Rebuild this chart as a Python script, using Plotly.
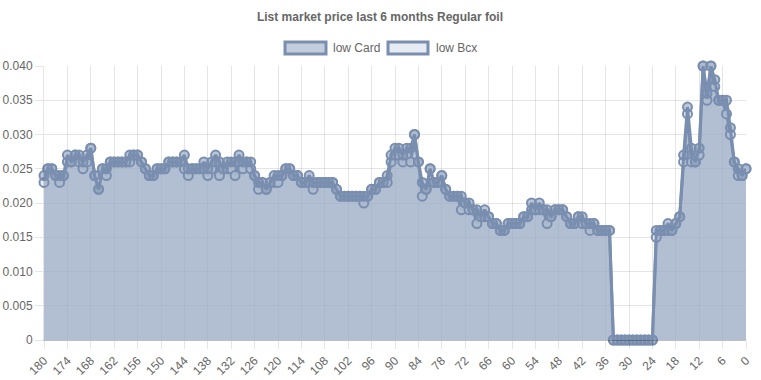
import plotly.graph_objects as go

# days before today (category axis, 180 -> 0)
days = list(range(180, -1, -1))

# low Card values, day 180 ... day 0
low_card = [
    0.024, 0.025, 0.025, 0.024, 0.024, 0.024, 0.027, 0.026, 0.027, 0.027,   # 180-171
    0.026, 0.027, 0.028, 0.024, 0.022, 0.025, 0.025, 0.026, 0.026, 0.026,   # 170-161
    0.026, 0.026, 0.027, 0.027, 0.027, 0.026, 0.025, 0.024, 0.024, 0.025,   # 160-151
    0.025, 0.025, 0.026, 0.026, 0.026, 0.026, 0.027, 0.025, 0.025, 0.025,   # 150-141
    0.025, 0.026, 0.025, 0.026, 0.027, 0.026, 0.025, 0.026, 0.026, 0.026,   # 140-131
    0.027, 0.026, 0.026, 0.026, 0.024, 0.023, 0.023, 0.022, 0.023, 0.024,   # 130-121
    0.024, 0.024, 0.025, 0.025, 0.024, 0.024, 0.023, 0.023, 0.024, 0.023,   # 120-111
    0.023, 0.023, 0.023, 0.023, 0.023, 0.022, 0.021, 0.021, 0.021, 0.021,   # 110-101
    0.021, 0.021, 0.021, 0.021, 0.022, 0.022, 0.023, 0.023, 0.024, 0.027,   # 100-91
    0.028, 0.028, 0.027, 0.028, 0.028, 0.030, 0.026, 0.023, 0.022, 0.025,   # 90-81
    0.023, 0.023, 0.024, 0.022, 0.021, 0.021, 0.021, 0.021, 0.020, 0.020,   # 80-71
    0.019, 0.019, 0.018, 0.019, 0.018, 0.017, 0.017, 0.016, 0.016, 0.017,   # 70-61
    0.017, 0.017, 0.017, 0.018, 0.018, 0.020, 0.019, 0.020, 0.019, 0.019,   # 60-51
    0.018, 0.019, 0.019, 0.019, 0.018, 0.017, 0.017, 0.018, 0.018, 0.017,   # 50-41
    0.017, 0.017, 0.016, 0.016, 0.016, 0.016, 0.0, 0.0, 0.0, 0.0,          # 40-31
    0.0, 0.0, 0.0, 0.0, 0.0, 0.0, 0.0, 0.016, 0.016, 0.016,                 # 30-21
    0.017, 0.016, 0.017, 0.018, 0.027, 0.034, 0.028, 0.026, 0.028, 0.040,   # 20-11
    0.036, 0.040, 0.038, 0.035, 0.035, 0.035, 0.031, 0.026, 0.025, 0.024,   # 10-1
    0.025,                                                                  # 0
]

# low Bcx values, day 180 ... day 0
low_bcx = [
    0.023, 0.025, 0.025, 0.024, 0.023, 0.024, 0.026, 0.026, 0.027, 0.026,   # 180-171
    0.025, 0.026, 0.028, 0.024, 0.022, 0.025, 0.024, 0.026, 0.026, 0.026,   # 170-161
    0.026, 0.026, 0.026, 0.027, 0.027, 0.026, 0.025, 0.024, 0.024, 0.025,   # 160-151
    0.025, 0.025, 0.026, 0.026, 0.026, 0.026, 0.025, 0.024, 0.025, 0.025,   # 150-141
    0.025, 0.025, 0.024, 0.025, 0.026, 0.024, 0.025, 0.025, 0.025, 0.024,   # 140-131
    0.026, 0.025, 0.026, 0.025, 0.024, 0.022, 0.023, 0.022, 0.023, 0.023,   # 130-121
    0.023, 0.024, 0.025, 0.025, 0.024, 0.024, 0.023, 0.023, 0.023, 0.022,   # 120-111
    0.023, 0.023, 0.023, 0.023, 0.023, 0.022, 0.021, 0.021, 0.021, 0.021,   # 110-101
    0.021, 0.021, 0.020, 0.021, 0.022, 0.022, 0.023, 0.023, 0.023, 0.026,   # 100-91
    0.027, 0.027, 0.026, 0.027, 0.026, 0.030, 0.026, 0.021, 0.022, 0.025,   # 90-81
    0.023, 0.023, 0.024, 0.022, 0.021, 0.021, 0.021, 0.019, 0.020, 0.019,   # 80-71
    0.019, 0.017, 0.018, 0.018, 0.018, 0.017, 0.017, 0.016, 0.016, 0.017,   # 70-61
    0.017, 0.017, 0.017, 0.018, 0.018, 0.019, 0.019, 0.019, 0.019, 0.017,   # 60-51
    0.018, 0.019, 0.019, 0.019, 0.018, 0.017, 0.017, 0.018, 0.017, 0.017,   # 50-41
    0.016, 0.017, 0.016, 0.016, 0.016, 0.016, 0.0, 0.0, 0.0, 0.0,          # 40-31
    0.0, 0.0, 0.0, 0.0, 0.0, 0.0, 0.0, 0.015, 0.016, 0.016,                 # 30-21
    0.016, 0.016, 0.017, 0.018, 0.026, 0.033, 0.026, 0.026, 0.027, 0.040,   # 20-11
    0.035, 0.040, 0.037, 0.035, 0.035, 0.033, 0.030, 0.026, 0.024, 0.024,   # 10-1
    0.025,                                                                  # 0
]

x_tick_vals = [180, 174, 168, 162, 156, 150, 144, 138, 132, 126, 120, 114, 108,
               102, 96, 90, 84, 78, 72, 66, 60, 54, 48, 42, 36, 30, 24, 18, 12, 6, 0]
y_tick_vals = [0, 0.005, 0.010, 0.015, 0.020, 0.025, 0.030, 0.035, 0.040]
y_tick_text = ["0", "0.005", "0.010", "0.015", "0.020", "0.025", "0.030", "0.035", "0.040"]
series_names = ["low Card", "low Bcx"]
title_text = "List market price last 6 months Regular foil"

LINE = "rgb(122,143,176)"
CARD_FILL = "rgba(120,141,174,0.5)"
BCX_FILL = "rgba(222,228,240,0.55)"
FONT = "Liberation Sans, Arial, Helvetica, sans-serif"
GRID = "rgba(0,0,0,0.1)"

W, H = 761, 380
L, R, T, B = 44, 15, 66, 40
PW, PH = W - L - R, H - T - B


def px_x(p):  # screen pixel -> paper
    return (p - L) / PW


def px_y(p):
    return (H - B - p) / PH


fig = go.Figure()
fig.add_trace(go.Scatter(
    x=days, y=low_bcx, name=series_names[1], mode="lines+markers",
    fill="tozeroy", fillcolor=BCX_FILL,
    line=dict(color=LINE, width=3),
    marker=dict(size=9, color="rgba(228,233,242,0.9)", line=dict(color=LINE, width=2)),
    cliponaxis=False, showlegend=False,
))
fig.add_trace(go.Scatter(
    x=days, y=low_card, name=series_names[0], mode="lines+markers",
    fill="tozeroy", fillcolor=CARD_FILL,
    line=dict(color=LINE, width=3),
    marker=dict(size=9, color=CARD_FILL, line=dict(color=LINE, width=2)),
    cliponaxis=False, showlegend=False,
))

# Chart.js-style legend boxes
shapes = []
annotations = []
legend_items = [
    (285, 326, "rgba(120,141,174,0.45)", 331, series_names[0]),
    (388, 428, "rgba(222,228,240,0.75)", 434, series_names[1]),
]
for x0, x1, fillc, tx, label in legend_items:
    shapes.append(dict(type="rect", xref="paper", yref="paper",
                       x0=px_x(x0), x1=px_x(x1), y0=px_y(54), y1=px_y(42),
                       fillcolor=fillc, line=dict(color=LINE, width=3), layer="above"))
    annotations.append(dict(xref="paper", yref="paper", x=px_x(tx), y=px_y(48),
                            xanchor="left", yanchor="middle", showarrow=False,
                            text=label, font=dict(family=FONT, size=12, color="#666")))

fig.update_layout(
    width=W, height=H,
    margin=dict(l=L, r=R, t=T, b=B, autoexpand=False),
    paper_bgcolor="white", plot_bgcolor="white",
    title=dict(text="<b>" + title_text + "</b>", x=380 / W, xanchor="center",
               xref="container", y=1 - 17 / H, yref="container", yanchor="middle",
               font=dict(family=FONT, size=12, color="#666")),
    font=dict(family=FONT, size=12, color="#666"),
    showlegend=False,
    shapes=shapes,
    annotations=annotations,
    xaxis=dict(range=[180, 0], autorange=False, tickmode="array", tickvals=x_tick_vals,
               ticktext=[str(v) for v in x_tick_vals], tickangle=-45, automargin=False,
               showgrid=True, gridcolor=GRID, gridwidth=1,
               ticks="outside", ticklen=8, tickcolor=GRID,
               showline=True, linecolor="rgba(0,0,0,0.25)", zeroline=False,
               tickfont=dict(family=FONT, size=12, color="#666")),
    yaxis=dict(range=[0, 0.040], autorange=False, tickmode="array", tickvals=y_tick_vals,
               ticktext=y_tick_text, automargin=False, showgrid=True, gridcolor=GRID, gridwidth=1,
               ticks="outside", ticklen=8, tickcolor=GRID,
               showline=True, linecolor=GRID, zeroline=False,
               tickfont=dict(family=FONT, size=12, color="#666")),
)

# remove the browser's default 8px body margin so the figure sits at the page origin
fig.write_html("out.html",
               config={"displayModeBar": False},
               post_script="document.body.style.margin='0';document.body.style.overflow='hidden';")
